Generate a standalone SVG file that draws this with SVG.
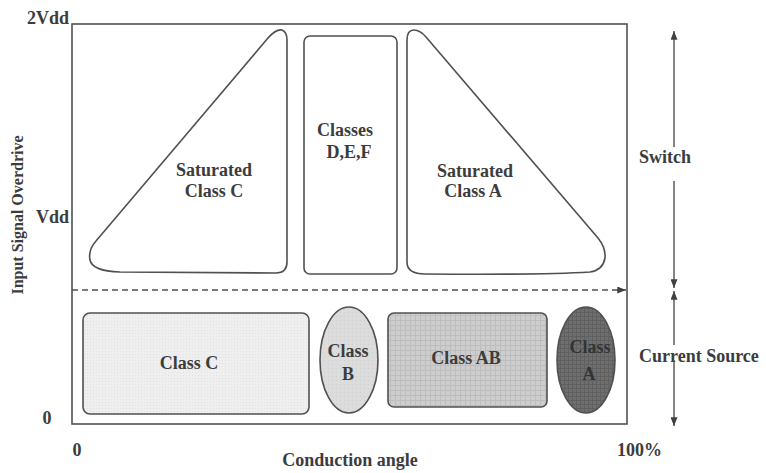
<svg xmlns="http://www.w3.org/2000/svg" width="766" height="473" viewBox="0 0 766 473" font-family="'Liberation Serif', 'DejaVu Serif', serif">
<defs>
<style>
text{font-family:'Liberation Serif','Times New Roman','DejaVu Serif',serif;font-weight:bold;fill:#3c3c3c;font-size:18px}
.c{text-anchor:middle}
.sh{stroke:#505050;stroke-width:1.6;fill:#fff}
.ax{stroke:#505050;stroke-width:1.6;fill:none}
.ln{stroke:#505050;stroke-width:1.4;fill:none}
</style>
<marker id="ah" viewBox="0 0 10 8" refX="10" refY="4" markerWidth="9" markerHeight="7" markerUnits="userSpaceOnUse" orient="auto">
<path d="M0,0 L10,4 L0,8 Z" fill="#404040"/>
</marker>
<pattern id="dots" width="3" height="3" patternUnits="userSpaceOnUse">
<rect width="3" height="3" fill="#efefef"/><rect width="1" height="1" fill="#e2e2e2"/>
</pattern>
<pattern id="gridB" width="4" height="4" patternUnits="userSpaceOnUse">
<rect width="4" height="4" fill="#dcdcdc"/><rect width="1" height="1" fill="#cfcfcf"/>
</pattern>
<pattern id="gridAB" width="5" height="5" patternUnits="userSpaceOnUse">
<rect width="5" height="5" fill="#cdcdcd"/><path d="M0,0.5 H5 M0.5,0 V5" stroke="#bdbdbd" stroke-width="1"/>
</pattern>
<pattern id="gridA" width="4" height="4" patternUnits="userSpaceOnUse">
<rect width="4" height="4" fill="#6e6e6e"/><path d="M0,0.5 H4 M0.5,0 V4" stroke="#606060" stroke-width="1"/>
</pattern>
</defs>

<g id="axes">
<rect x="72" y="24" width="555" height="400" class="ax"/>
<text x="27" y="24">2Vdd</text>
<text x="36" y="223">Vdd</text>
<text x="47" y="424" class="c">0</text>
<text x="77" y="456" class="c">0</text>
<text x="617" y="456">100%</text>
<text x="350" y="466" class="c">Conduction angle</text>
<text class="c" transform="translate(23,215) rotate(-90)" style="font-size:16px">Input Signal Overdrive</text>
</g>

<g id="sat-class-c">
<path class="sh" d="M287,40 L287,262 Q287,273 276,273 L120,272 Q92,271 90,260 Q88,250 96,241 L268,38 Q276,29 282,30 Q287,32 287,40 Z"/>
<text x="214" y="176" class="c">Saturated</text>
<text x="214" y="197" class="c">Class C</text>
</g>

<g id="classes-def">
<rect class="sh" x="304" y="36" width="93" height="238" rx="6"/>
<text x="345" y="136" class="c">Classes</text>
<text x="349" y="158" class="c">D,E,F</text>
</g>

<g id="sat-class-a">
<path class="sh" d="M407,40 Q407,30 414,30 Q420,30 426,37 L598,238 Q606,248 605,258 Q603,270 590,272 Q540,275 425,274 Q407,274 407,262 Z"/>
<text x="475" y="177" class="c">Saturated</text>
<text x="473" y="197" class="c">Class A</text>
</g>

<g id="class-c">
<rect class="sh" x="83" y="313" width="226" height="101" rx="7" style="fill:url(#dots)"/>
<text x="189" y="369" class="c">Class C</text>
</g>

<g id="class-b">
<ellipse class="sh" cx="349" cy="360" rx="29" ry="53" style="fill:url(#gridB)"/>
<text x="348" y="357" class="c">Class</text>
<text x="348" y="380" class="c">B</text>
</g>

<g id="class-ab">
<rect class="sh" x="388" y="313" width="159" height="94" rx="6" style="fill:url(#gridAB)"/>
<text x="466" y="364" class="c">Class AB</text>
</g>

<g id="class-a">
<ellipse class="sh" cx="586" cy="360" rx="29" ry="53" style="fill:url(#gridA)"/>
<text x="590" y="353" class="c" style="fill:#333">Class</text>
<text x="589" y="380" class="c" style="fill:#333">A</text>
</g>

<g id="switch">
<text x="639" y="163">Switch</text>
</g>
<g id="current-source">
<text x="639" y="362">Current Source</text>
</g>

<g id="connectors">
<line x1="72" y1="290" x2="626" y2="290" class="ln" stroke-dasharray="6,4" marker-end="url(#ah)"/>
<line x1="674" y1="147" x2="674" y2="31" class="ln" marker-end="url(#ah)"/>
<line x1="674" y1="181" x2="674" y2="288" class="ln" marker-end="url(#ah)"/>
<line x1="674" y1="345" x2="674" y2="291" class="ln" marker-end="url(#ah)"/>
<line x1="674" y1="360" x2="674" y2="426" class="ln" marker-end="url(#ah)"/>
</g>
</svg>
